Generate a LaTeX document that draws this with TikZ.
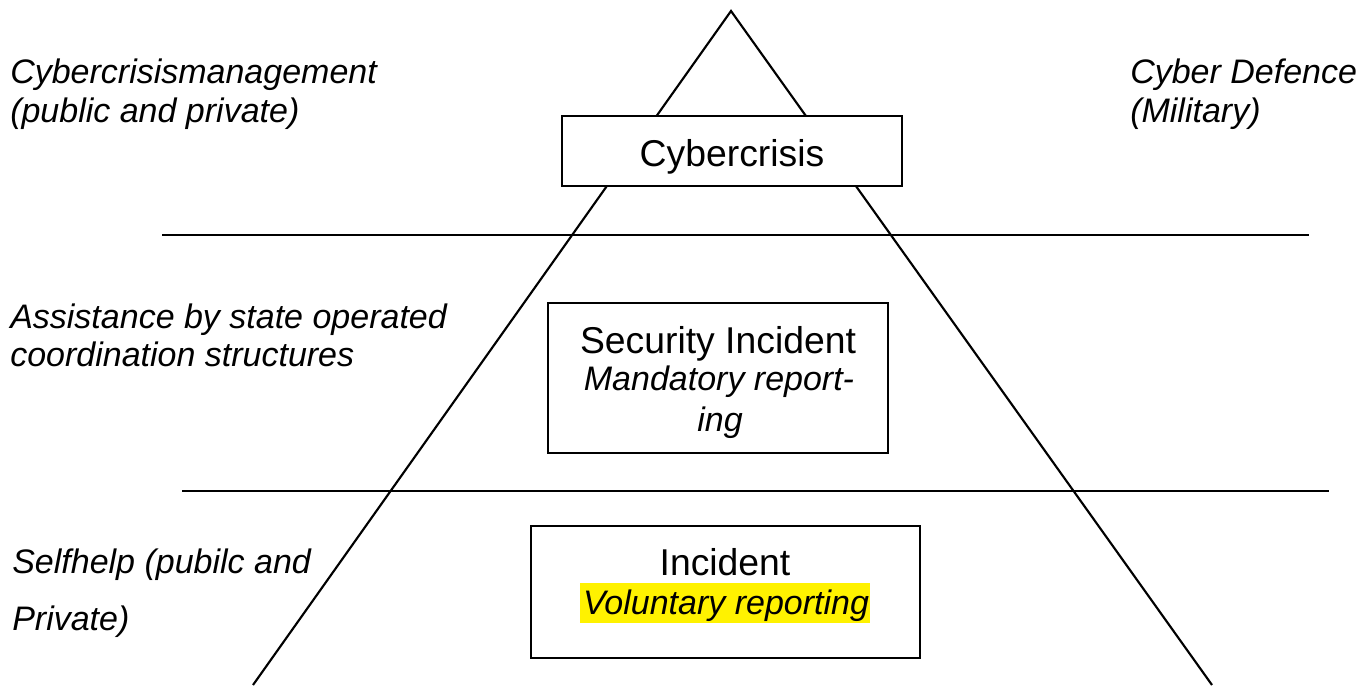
\documentclass[tikz,border=0pt]{standalone}
\usepackage{fontspec}
\setmainfont{Liberation Sans}
\begin{document}
\begin{tikzpicture}[x=0.75pt,y=-0.75pt,
  boxstyle/.style={draw, line width=2pt, fill=white, inner sep=0pt},
  sidelabel/.style={anchor=base west, inner sep=0pt, font=\fontsize{25.5}{29}\selectfont\itshape},
  boxmain/.style={anchor=base, inner sep=0pt, font=\fontsize{28}{32}\selectfont},
  boxsub/.style={anchor=base, inner sep=0pt, font=\fontsize{25.5}{29}\selectfont\itshape},
  hilite/.style={fill=yellow, inner sep=0pt, minimum width=217.5pt, minimum height=30pt},
  rule/.style={line width=2pt},
  sideline/.style={line width=1.6pt, line join=miter}]
\useasboundingbox (0,0) rectangle (1362,685);
% triangle
\coordinate (apex) at (731,11);
\coordinate (bl) at (253,685);
\coordinate (br) at (1212,685);
\begin{scope}
  \clip (0,0) rectangle (1362,685);
  \draw[sideline] (bl) -- (apex) -- (br);
\end{scope}
% horizontal separators
\coordinate (h1a) at (162,235);
\coordinate (h1b) at (1309,235);
\coordinate (h2a) at (182,491);
\coordinate (h2b) at (1329,491);
\draw[rule] (h1a) -- (h1b);
\draw[rule] (h2a) -- (h2b);
% boxes
\node[boxstyle, minimum width=255pt, minimum height=52.5pt] (box1) at (732,151) {};
\node[boxstyle, minimum width=255pt, minimum height=112.5pt] (box2) at (718,378) {};
\node[boxstyle, minimum width=291.75pt, minimum height=99pt] (box3) at (725.5,592) {};
% box texts
\node[boxmain] (t1) at (732,166) {Cybercrisis};
\node[boxmain] (t2a) at (718,353) {Security Incident};
\node[boxsub] (t2b) at (719,390) {Mandatory report-};
\node[boxsub] (t2c) at (720,431) {ing};
\node[boxmain] (t3a) at (725,575) {Incident};
\node[hilite] (t3h) at (725,603) {};
\node[boxsub] (t3b) at (726,614) {Voluntary reporting};
% side labels
\node[sidelabel] (l1a) at (10,84) {Cybercrisismanagement};
\node[sidelabel] (l1b) at (10,122) {(public and private)};
\node[sidelabel] (r1a) at (1130,84) {Cyber Defence};
\node[sidelabel] (r1b) at (1130,122) {(Military)};
\node[sidelabel] (l2a) at (10,328) {Assistance by state operated};
\node[sidelabel] (l2b) at (10,366) {coordination structures};
\node[sidelabel] (l3a) at (12,573) {Selfhelp (pubilc and};
\node[sidelabel] (l3b) at (12,630) {Private)};
\end{tikzpicture}
\end{document}
